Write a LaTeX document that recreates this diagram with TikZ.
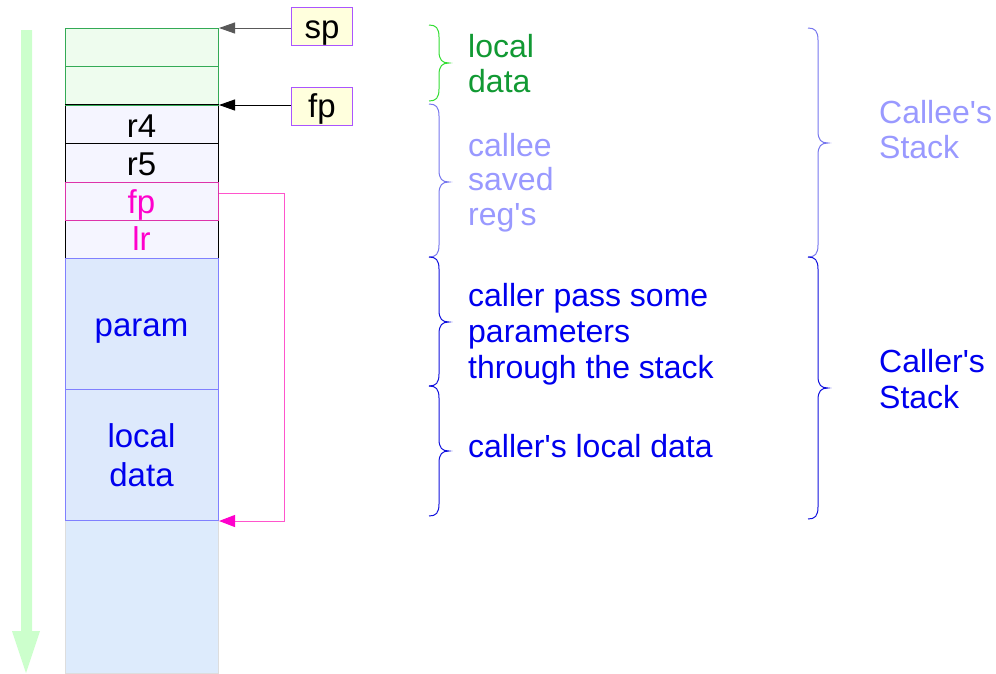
\documentclass[tikz,border=0pt]{standalone}
\usepackage{fontspec}
\setmainfont{Liberation Sans}
\usetikzlibrary{arrows.meta}
\definecolor{gfill}{HTML}{EEFCEE}
\definecolor{gdraw}{HTML}{33AA55}
\definecolor{rfill}{HTML}{F5F5FF}
\definecolor{pfill}{HTML}{DDE9FC}
\definecolor{pdraw}{HTML}{8080FF}
\definecolor{mag}{HTML}{FF00CC}
\definecolor{magline}{HTML}{FF55CC}
\definecolor{magdraw}{HTML}{DD33AA}
\definecolor{darrow}{HTML}{CCFFCC}
\definecolor{lfill}{HTML}{FFFFDD}
\definecolor{ldraw}{HTML}{AA55FF}
\definecolor{gtext}{HTML}{119933}
\definecolor{gbrace}{HTML}{33DD33}
\definecolor{ltext}{HTML}{9999FF}
\definecolor{lbrace}{HTML}{7777EE}
\definecolor{btext}{HTML}{0000EE}
\definecolor{bbrace}{HTML}{1111DD}
\definecolor{botfill}{HTML}{DDEBFC}
\definecolor{botdraw}{HTML}{DDDDDD}
\newcommand\mybrace[5]{\draw[#1,line width=1pt] (#2,#3) .. controls (#2+7,#3) and (#2+10,#3+3) .. (#2+10,#3+12) -- (#2+10,#4-12) .. controls (#2+10,#4-3) and (#2+13,#4) .. (#2+20,#4) .. controls (#2+13,#4) and (#2+10,#4+3) .. (#2+10,#4+12) -- (#2+10,#5-12) .. controls (#2+10,#5-3) and (#2+7,#5) .. (#2,#5);}
\newcommand\sq{\textquotesingle}
\tikzset{
  cell/.style={draw, line width=1pt, inner sep=0pt, minimum width=153pt, anchor=north west},
  celltext/.style={anchor=base, inner sep=0pt, font=\fontsize{33}{38}\selectfont},
  rtext/.style={anchor=base west, inner sep=0pt, font=\fontsize{32}{36}\selectfont},
  ptr/.style={draw=ldraw, fill=lfill, line width=1pt, minimum width=61pt, minimum height=38pt, inner sep=0pt, text height=23.5pt, text depth=0pt, font=\fontsize{33}{38}\selectfont},
}
\begin{document}
\begin{tikzpicture}[x=1pt,y=-1pt]
\useasboundingbox (0,0) rectangle (996,673);
% direction arrow
\fill[darrow] (21,30) -- (32,30) -- (32,631) -- (40,631) -- (26,673) -- (12,631) -- (21,631) -- cycle;
% stack cells
\node[cell, draw=gdraw, fill=gfill, minimum height=38pt] (g1) at (65,28) {};
\node[cell, draw=gdraw, fill=gfill, minimum height=38pt] (g2) at (65,66) {};
\node[cell, draw=black, fill=rfill, minimum height=39pt] (r4) at (65,104) {};
\node[cell, draw=black, fill=rfill, minimum height=39pt] (r5) at (65,143) {};
\node[cell, draw=black, fill=rfill, minimum height=38pt] (lr) at (65,220) {};
\node[cell, draw=magdraw, fill=rfill, minimum height=38pt] (fpc) at (65,182) {};
\node[cell, draw=botdraw, fill=botfill, minimum height=153pt] (bot) at (65,520) {};
\node[cell, draw=pdraw, fill=pfill, minimum height=131pt] (par) at (65,258) {};
\node[cell, draw=pdraw, fill=pfill, minimum height=131pt] (loc) at (65,389) {};
\draw[gdraw, line width=1pt] (g2.south west) -- (g2.south east);
% cell texts
\node[celltext] (tr4) at (141.5,137) {r4};
\node[celltext] (tr5) at (141.5,175) {r5};
\node[celltext, text=mag] (tfp) at (141.5,213) {fp};
\node[celltext, text=mag] (tlr) at (141.5,250) {lr};
\node[celltext, text=btext] (tpar) at (141.5,336) {param};
\node[celltext, text=btext] (tloc1) at (141.5,447) {local};
\node[celltext, text=btext] (tloc2) at (141.5,486) {data};
% pointers
\node[ptr] (sp) at (322,26.5) {sp};
\node[ptr] (fpb) at (322,106) {fp};
\draw[line width=1pt, black!65, -{Triangle[length=16pt,width=11pt]}] (sp.west |- g1.north east) -- (g1.north east);
\draw[line width=1pt, -{Triangle[length=16pt,width=11pt]}] (fpb.west |- g2.south east) -- (g2.south east);
% saved fp link
\draw[magline, line width=1pt, -{Triangle[length=16pt,width=12pt,color=mag]}] ([yshift=8pt]fpc.east) -- ++(65,0) |- (loc.south east);
% braces
\mybrace{gbrace}{429}{25}{63}{101}
\mybrace{lbrace}{429}{104}{182}{257}
\mybrace{bbrace}{429}{257}{322}{386}
\mybrace{bbrace}{429}{386}{451}{516}
\mybrace{lbrace}{808}{28}{143}{257}
\mybrace{bbrace}{808}{257}{388}{519}
% right texts
\node[rtext, text=gtext] (a1) at (468,57) {local};
\node[rtext, text=gtext] (a2) at (468,92) {data};
\node[rtext, text=ltext] (b1) at (468,156) {callee};
\node[rtext, text=ltext] (b2) at (468,190) {saved};
\node[rtext, text=ltext] (b3) at (468,225) {reg\sq s};
\node[rtext, text=btext] (c1) at (468,306) {caller pass some};
\node[rtext, text=btext] (c2) at (468,342) {parameters};
\node[rtext, text=btext] (c3) at (468,378) {through the stack};
\node[rtext, text=btext] (d1) at (468,457) {caller\sq s local data};
\node[rtext, text=ltext] (e1) at (879,123) {Callee\sq s};
\node[rtext, text=ltext] (e2) at (879,158) {Stack};
\node[rtext, text=btext] (f1) at (879,372) {Caller\sq s};
\node[rtext, text=btext] (f2) at (879,408) {Stack};
\end{tikzpicture}
\end{document}
